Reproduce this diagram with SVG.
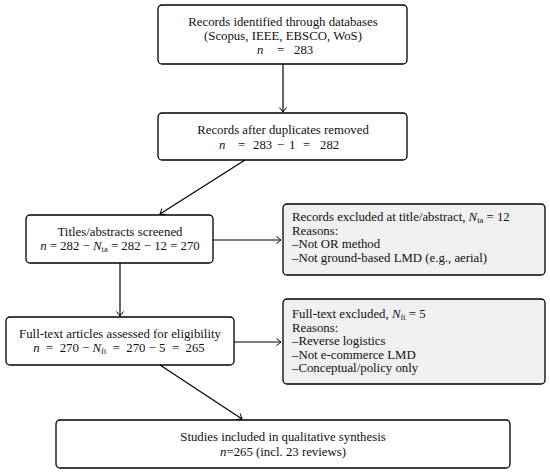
<svg xmlns="http://www.w3.org/2000/svg" width="550" height="473" viewBox="0 0 550 473">
<defs>
<style>
.box{fill:#ffffff;stroke:#000;stroke-width:1.3}
.gbox{fill:#f0f0f0;stroke:#000;stroke-width:1.3}
text{font-family:"Liberation Serif","Times New Roman",serif;font-size:12.8px;fill:#111}
.c{text-anchor:middle}
.i{font-style:italic}
.sub{font-size:8.5px}
.conn{stroke:#000;stroke-width:1.2;fill:none;marker-end:url(#arr)}
</style>
<marker id="arr" markerUnits="userSpaceOnUse" viewBox="-6 -5 8 10" markerWidth="8" markerHeight="10" refX="0" refY="0" orient="auto">
<path d="M-4.5,-3.5 Q-1.2,-1 0,0 Q-1.2,1 -4.5,3.5" fill="none" stroke="#000" stroke-width="1"/>
</marker>
</defs>
<g id="connectors">
<line class="conn" x1="283" y1="64" x2="283" y2="112"/>
<line class="conn" x1="245" y1="160" x2="160" y2="214"/>
<line class="conn" x1="213" y1="240" x2="281" y2="240"/>
<line class="conn" x1="120" y1="263" x2="120" y2="316"/>
<line class="conn" x1="234" y1="342" x2="281" y2="342"/>
<line class="conn" x1="160" y1="365" x2="242" y2="419"/>
</g>
<g id="n1">
<rect class="box" x="158" y="5" width="249" height="59" rx="4"/>
<text class="c" x="283" y="26">Records identified through databases</text>
<text class="c" x="283" y="39.5">(Scopus, IEEE, EBSCO, WoS)</text>
<text y="53.5"><tspan x="257" class="i">n</tspan><tspan x="277">=</tspan><tspan x="294">283</tspan></text>
</g>
<g id="n2">
<rect class="box" x="158" y="113" width="249" height="47" rx="4"/>
<text class="c" x="283" y="134">Records after duplicates removed</text>
<text y="149"><tspan x="219" class="i">n</tspan><tspan x="238">=</tspan><tspan x="253">283</tspan><tspan x="277">−</tspan><tspan x="289">1</tspan><tspan x="303">=</tspan><tspan x="320">282</tspan></text>
</g>
<g id="n3">
<rect class="box" x="26" y="215" width="187" height="48" rx="4"/>
<text class="c" x="120" y="236">Titles/abstracts screened</text>
<text class="c" x="120" y="250"><tspan class="i">n</tspan> = 282 − <tspan class="i">N</tspan><tspan class="sub" dy="1.5">ta</tspan><tspan dy="-1.5"> = 282 − 12 = 270</tspan></text>
</g>
<g id="n4">
<rect class="gbox" x="283" y="204" width="262" height="71" rx="4"/>
<text x="292" y="221">Records excluded at title/abstract, <tspan class="i">N</tspan><tspan class="sub" dy="1.5">ta</tspan><tspan dy="-1.5"> = 12</tspan></text>
<text x="292" y="234.5">Reasons:</text>
<text x="292" y="248">–Not OR method</text>
<text x="292" y="261.5">–Not ground-based LMD (e.g., aerial)</text>
</g>
<g id="n5">
<rect class="box" x="6" y="317" width="228" height="48" rx="4"/>
<text class="c" x="120" y="338">Full-text articles assessed for eligibility</text>
<text class="c" x="119" y="352" xml:space="preserve"><tspan class="i">n</tspan>  =  270 − <tspan class="i">N</tspan><tspan class="sub" dy="1.5">ft</tspan><tspan dy="-1.5">  =  270 − 5  =  265</tspan></text>
</g>
<g id="n6">
<rect class="gbox" x="283" y="299" width="262" height="85" rx="4"/>
<text x="292" y="318">Full-text excluded, <tspan class="i">N</tspan><tspan class="sub" dy="1.5">ft</tspan><tspan dy="-1.5"> = 5</tspan></text>
<text x="292" y="331.5">Reasons:</text>
<text x="292" y="345">–Reverse logistics</text>
<text x="292" y="358.5">–Not e-commerce LMD</text>
<text x="292" y="372">–Conceptual/policy only</text>
</g>
<g id="n7">
<rect class="box" x="56" y="420" width="454" height="48" rx="4"/>
<text class="c" x="283" y="441">Studies included in qualitative synthesis</text>
<text class="c" x="283" y="456"><tspan class="i">n</tspan>=265 (incl. 23 reviews)</text>
</g>
</svg>
